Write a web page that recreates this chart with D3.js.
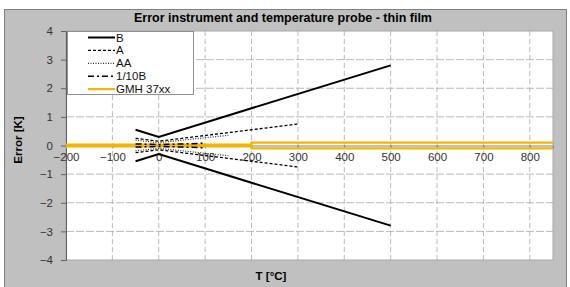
<!DOCTYPE html>
<html>
<head>
<meta charset="utf-8">
<script src="https://cdn.jsdelivr.net/npm/d3@7"></script>
<style>
  body { margin: 0; background: #fff; }
  text { font-family: "Liberation Sans", Arial, sans-serif; }
</style>
</head>
<body>
<svg id="chart" width="570" height="287"></svg>
<script>
// chart values
const xTicks = [-200, -100, 0, 100, 200, 300, 400, 500, 600, 700, 800];
const yTicks = [-4, -3, -2, -1, 0, 1, 2, 3, 4];

const tB = [-50, 0, 500];
const errB = [0.55, 0.3, 2.8];
const tA = [-50, 0, 300];
const errA = [0.25, 0.15, 0.75];
const tAA = [-50, 0, 150];
const errAA = [0.185, 0.1, 0.355];
const tB10 = [-50, 0, 100];
const errB10 = [0.055, 0.03, 0.08];
const tGMH = [-200, 200, 200, 850];
const errGMH = [0.03, 0.03, 0.1, 0.1];

const legendNames = ["B", "A", "AA", "1/10B", "GMH 37xx"];

const svg = d3.select("#chart");

// frame
svg.append("rect").attr("x", 4.5).attr("y", 9.5).attr("width", 562).attr("height", 280)
  .attr("fill", "#c0c0c0").attr("stroke", "#808080");

const x = d3.scaleLinear().domain([-200, 850]).range([66, 553]);
const y = d3.scaleLinear().domain([-4, 4]).range([260, 31]);

// plot area
svg.append("rect").attr("x", 66).attr("y", 31).attr("width", 487).attr("height", 229)
  .attr("fill", "#fff").attr("stroke", "#a8a8a8");

// grid
svg.append("g").selectAll("line").data(xTicks.filter(d => d > -200))
  .enter().append("line")
  .attr("x1", d => x(d)).attr("x2", d => x(d))
  .attr("y1", 31).attr("y2", 260)
  .attr("stroke", "#a8a8a8").attr("stroke-width", 0.8)
  .attr("stroke-dasharray", "5,3");
svg.append("g").selectAll("line").data(yTicks.filter(d => d > -4 && d < 4 && d != 0))
  .enter().append("line")
  .attr("x1", 66).attr("x2", 553)
  .attr("y1", d => y(d)).attr("y2", d => y(d))
  .attr("stroke", "#a8a8a8").attr("stroke-width", 0.8)
  .attr("stroke-dasharray", "8,2");

// axes
const yAxis = d3.axisLeft(y).tickValues(yTicks).tickSize(5).tickPadding(8);
const gy = svg.append("g").attr("transform", "translate(66,0)").call(yAxis);
gy.select(".domain").attr("stroke", "#606060");
gy.selectAll(".tick line").attr("stroke", "#606060");
gy.selectAll("text").attr("font-size", 11.5).attr("fill", "#333");

const xAxis = d3.axisBottom(x).tickValues(xTicks).tickSize(3).tickPadding(4);
const gx = svg.append("g").attr("transform", `translate(0,${y(0)})`).call(xAxis);
gx.select(".domain").attr("stroke", "#808080");
gx.selectAll(".tick line").attr("stroke", "#808080");
gx.selectAll("text").attr("font-size", 11.5).attr("fill", "#333");

// series
const line = d3.line().x(d => x(d[0])).y(d => y(d[1]));
function pts(ts, es, sign) { return ts.map((t, i) => [t, sign * es[i]]); }

const series = [
  { t: tGMH, e: errGMH, color: "#f4b400", width: 2.2, dash: null },
  { t: tB, e: errB, color: "#000", width: 2, dash: null },
  { t: tA, e: errA, color: "#000", width: 1.3, dash: "3,2" },
  { t: tAA, e: errAA, color: "#333", width: 1.2, dash: "1,1.5" },
  { t: tB10, e: errB10, color: "#000", width: 1.5, dash: "6,3,2,3" }
];
series.forEach(s => {
  [1, -1].forEach(sign => {
    svg.append("path").datum(pts(s.t, s.e, sign))
      .attr("d", line).attr("fill", "none")
      .attr("stroke", s.color).attr("stroke-width", s.width)
      .attr("stroke-dasharray", s.dash);
  });
});

// legend
const lg = svg.append("g");
lg.append("rect").attr("x", 67.5).attr("y", 31.5).attr("width", 126).attr("height", 63)
  .attr("fill", "#fff").attr("stroke", "#909090");
const legendStyle = [series[1], series[2], series[3], series[4], series[0]];
legendNames.forEach((n, i) => {
  const ly = 37.5 + i * 12.9;
  lg.append("line").attr("x1", 88).attr("x2", 115).attr("y1", ly).attr("y2", ly)
    .attr("stroke", legendStyle[i].color).attr("stroke-width", legendStyle[i].width)
    .attr("stroke-dasharray", legendStyle[i].dash);
  lg.append("text").attr("x", 116).attr("y", ly + 4).attr("font-size", 11.5)
    .attr("fill", "#111").text(n);
});

// titles
svg.append("text").attr("x", 283).attr("y", 22).attr("text-anchor", "middle")
  .attr("font-size", 12.5).attr("font-weight", "bold").text("Error instrument and temperature probe - thin film");
svg.append("text").attr("x", 271).attr("y", 280).attr("text-anchor", "middle")
  .attr("font-size", 11.5).attr("font-weight", "bold").text("T [°C]");
svg.append("text").attr("transform", "translate(22,140) rotate(-90)").attr("text-anchor", "middle")
  .attr("font-size", 11.5).attr("font-weight", "bold").text("Error [K]");
</script>
</body>
</html>
